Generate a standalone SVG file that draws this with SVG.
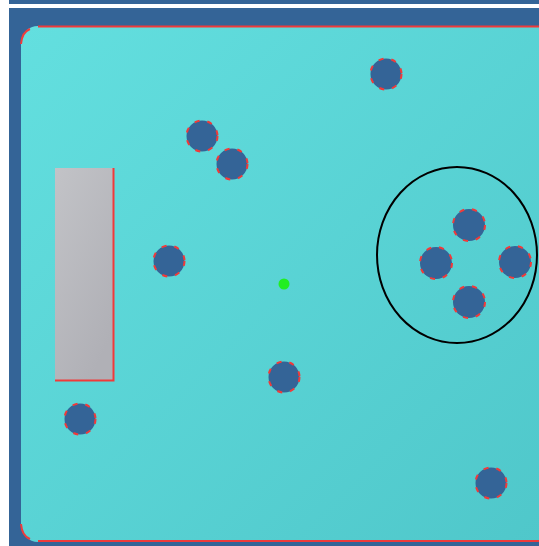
<svg xmlns="http://www.w3.org/2000/svg" width="539" height="546" viewBox="0 0 539 546">
<defs>
<linearGradient id="floor" x1="0" y1="0" x2="1" y2="1">
<stop offset="0" stop-color="#63DFDF"/>
<stop offset="1" stop-color="#4FC7CA"/>
</linearGradient>
<linearGradient id="wall" x1="0" y1="0" x2="0.6" y2="1">
<stop offset="0" stop-color="#C2C3C7"/>
<stop offset="1" stop-color="#B0B0B6"/>
</linearGradient>
<style>
.obs{fill:#346497;stroke:#F03A3A;stroke-width:2;stroke-dasharray:5 8}
.edge{stroke:#F03A3A;stroke-width:2;fill:none}
</style>
</defs>
<rect x="0" y="0" width="539" height="546" fill="#FFFFFF"/>
<rect x="9" y="0" width="530" height="4" fill="#346497"/>
<rect x="9" y="8" width="530" height="538" fill="#346497"/>
<g id="arena">
<rect x="21" y="26" width="530" height="516" rx="17" ry="17" fill="url(#floor)"/>
<path class="edge" d="M38 26.5 H539 M38 541 H539 M21 44 Q22 32 30 29 M21 524 Q22 536 30 539"/>
</g>
<g id="wall-block">
<rect x="55" y="168" width="59" height="213" fill="url(#wall)"/>
<path class="edge" d="M113.5 168 V380.5 H55"/>
</g>
<g id="obstacles">
<circle class="obs" cx="386" cy="74" r="15.5"/>
<circle class="obs" cx="202" cy="136" r="15.5"/>
<circle class="obs" cx="232" cy="164" r="15.5"/>
<circle class="obs" cx="169" cy="261" r="15.5"/>
<circle class="obs" cx="469" cy="225" r="16"/>
<circle class="obs" cx="436" cy="263" r="16"/>
<circle class="obs" cx="515" cy="262" r="16"/>
<circle class="obs" cx="469" cy="302" r="16"/>
<circle class="obs" cx="284" cy="377" r="15.5"/>
<circle class="obs" cx="80" cy="419" r="15.5"/>
<circle class="obs" cx="491" cy="483" r="15.5"/>
</g>
<g id="goal-region">
<ellipse cx="457" cy="255" rx="80" ry="88" fill="none" stroke="#000000" stroke-width="2"/>
</g>
<g id="robot">
<circle cx="284" cy="284" r="5.5" fill="#22EE22"/>
</g>
</svg>
